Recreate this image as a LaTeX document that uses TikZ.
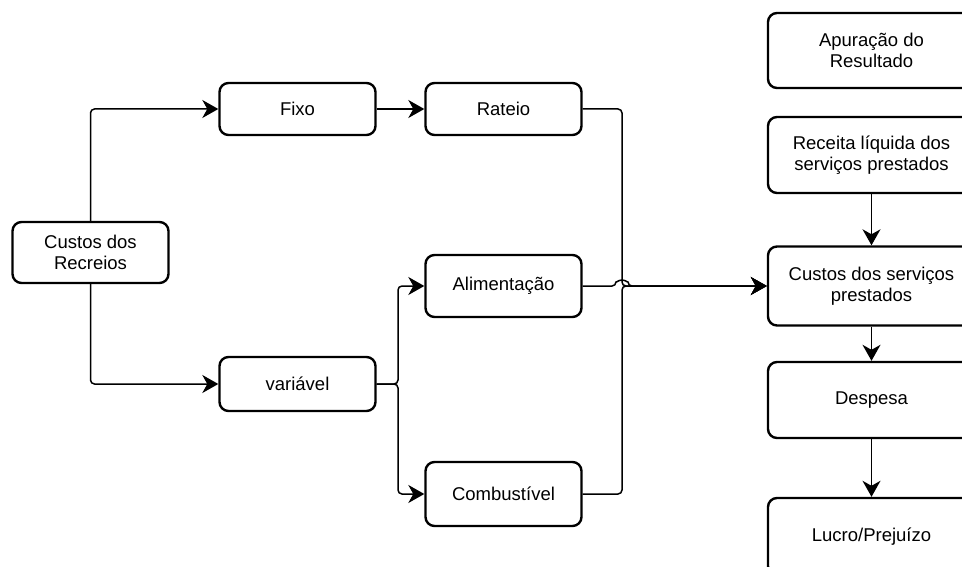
\documentclass[tikz,border=0pt]{standalone}
\usepackage{fontspec}
\setmainfont{Liberation Sans}
\usetikzlibrary{arrows.meta}
\begin{document}
\begin{tikzpicture}[x=1pt,y=-1pt,
  box/.style={draw, line width=2.4pt, rounded corners=9pt, align=center,
    font=\fontsize{18.5}{21}\selectfont, inner sep=0pt},
  leftbox/.style={box, minimum width=156pt},
  rightbox/.style={box, minimum width=207pt},
  wire/.style={line width=1.5pt, rounded corners=4pt},
  link/.style={wire, -{Stealth[length=16pt,width=18pt,inset=5pt]}}]
\useasboundingbox (0,0) rectangle (962,567);
\clip (0,0) rectangle (962,567);

% left part: cost classification
\node[leftbox, minimum height=61pt] (rec) at (90.5,252.5) {Custos dos\\Recreios};
\node[leftbox, minimum height=52pt] (fixo) at (297.5,109) {Fixo};
\node[leftbox, minimum height=54pt] (var) at (297.5,384) {variável};
\node[leftbox, minimum height=52pt] (rat) at (503.5,109) {Rateio};
\node[leftbox, minimum height=62pt] (ali) at (503.5,286) {Alimentação};
\node[leftbox, minimum height=64pt] (comb) at (503.5,494) {Combustível};

% right column: result statement
\node[rightbox, minimum height=75pt] (apu) at (871.5,50.5) {Apuração do\\Resultado};
\node[rightbox, minimum height=76pt] (rece) at (871.5,155) {Receita líquida dos\\serviços prestados};
\node[rightbox, minimum height=79pt] (csp) at (871.5,286) {Custos dos serviços\\prestados};
\node[rightbox, minimum height=76pt] (desp) at (871.5,400) {Despesa};
\node[rightbox, minimum height=77pt] (luc) at (871.5,536.5) {Lucro/Prejuízo};

% junction points
\coordinate (vsplit) at (398,384);
\coordinate (merge) at (622,286);

% connectors
\draw[link] (rec.north) |- (fixo.west);
\draw[link] (rec.south) |- (var.west);
\draw[link] (fixo.east) -- (rat.west);
\draw[link] (var.east) -- (vsplit) |- (ali.west);
\draw[link] (var.east) -- (vsplit) |- (comb.west);
\draw[link] (rat.east) -| (merge) -- (csp.west);
\draw[link] (comb.east) -| (merge) -- (csp.west);
\draw[link] (ali.east) -- ([xshift=-6pt]merge) arc[start angle=180, end angle=0, radius=6pt] -- (csp.west);
\draw[link] (rece.south) -- (csp.north);
\draw[link] (csp.south) -- (desp.north);
\draw[link] (desp.south) -- (luc.north);
\end{tikzpicture}
\end{document}
